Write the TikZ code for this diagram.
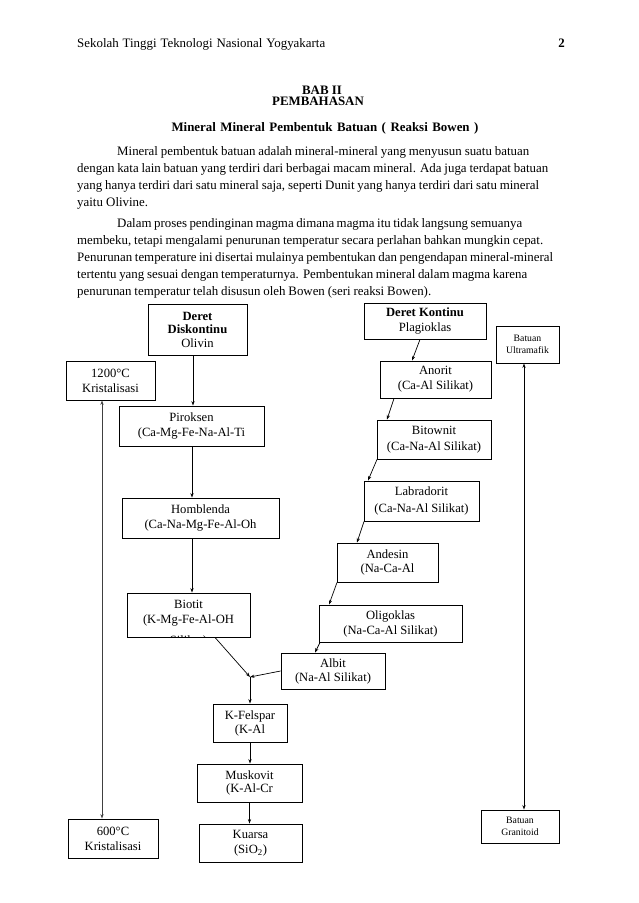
\documentclass[tikz,border=0pt]{standalone}
\usepackage{fontspec}
\setmainfont{Liberation Serif}
\usetikzlibrary{arrows.meta,calc}
\begin{document}
\begin{tikzpicture}[x=1pt,y=-1pt,
  box/.style={draw,line width=0.9pt,inner sep=0pt,align=center,font=\fontsize{12.6}{15}\selectfont},
  smallbox/.style={box,font=\fontsize{9.75}{12.5}\selectfont},
  arr/.style={-{Stealth[length=4.5pt,width=3.2pt]},line width=0.7pt},
  darr/.style={{Stealth[length=4.5pt,width=3.2pt]}-{Stealth[length=4.5pt,width=3.2pt]},line width=0.9pt},
  body/.style={anchor=base west,inner sep=0pt,font=\fontsize{12.9}{14}\selectfont},
  head/.style={anchor=base,inner sep=0pt,font=\fontsize{12.9}{14}\selectfont\bfseries},
]
\fill[white] (0,0) rectangle (638,903);
\useasboundingbox (0,0) rectangle (638,903);

% header
\node[body] (hdr) at (77,47) {\makebox[248pt][s]{Sekolah Tinggi Teknologi Nasional Yogyakarta}};
\node[anchor=base east,inner sep=0pt,font=\fontsize{12.9}{14}\selectfont\bfseries] (pg) at (565,47) {2};

\node[head] (bab) at (322,94) {BAB II};
\node[head] (pemb) at (318,105.5) {PEMBAHASAN};
\node[head] (judul) at (325,131) {\makebox[307pt][s]{Mineral Mineral Pembentuk Batuan ( Reaksi Bowen )}};

% paragraph 1
\node[body] (p1a) at (117,155.5) {\makebox[412pt][s]{Mineral pembentuk batuan adalah mineral-mineral yang menyusun suatu batuan}};
\node[body] (p1b) at (77,172.5) {\makebox[471pt][s]{dengan kata lain batuan yang terdiri dari berbagai macam mineral. Ada juga terdapat batuan}};
\node[body] (p1c) at (77,189.5) {\makebox[462pt][s]{yang hanya terdiri dari satu mineral saja, seperti Dunit yang hanya terdiri dari satu mineral}};
\node[body] (p1d) at (77,206.5) {yaitu Olivine.};
% paragraph 2
\node[body] (p2a) at (117,227.5) {\makebox[405pt][s]{Dalam proses pendinginan magma dimana magma itu tidak langsung semuanya}};
\node[body] (p2b) at (77,244.5) {\makebox[466pt][s]{membeku, tetapi mengalami penurunan temperatur secara perlahan bahkan mungkin cepat.}};
\node[body] (p2c) at (77,261.5) {\makebox[476pt][s]{Penurunan temperature ini disertai mulainya pembentukan dan pengendapan mineral-mineral}};
\node[body] (p2d) at (77,278.5) {\makebox[450pt][s]{tertentu yang sesuai dengan temperaturnya. Pembentukan mineral dalam magma karena}};
\node[body] (p2e) at (77,295.5) {\makebox[354pt][s]{penurunan temperatur telah disusun oleh Bowen (seri reaksi Bowen).}};

% left column
\node[box,minimum width=99pt,minimum height=51pt,font=\fontsize{12.6}{13.5}\selectfont] (disk) at (197.5,329.5) {\textbf{Deret}\\\textbf{Diskontinu}\\Olivin};
\node[box,minimum width=89pt,minimum height=39pt] (t1200) at (110.5,380.5) {1200°C\\Kristalisasi};
\node[box,minimum width=145pt,minimum height=40pt] (pirok) at (191.5,426) {Piroksen\\(Ca-Mg-Fe-Na-Al-Ti};
\node[box,minimum width=157pt,minimum height=40pt] (homb) at (200.5,518) {Homblenda\\(Ca-Na-Mg-Fe-Al-Oh};
\node[box,minimum width=123pt,minimum height=44pt] (biot) at (188.5,615) {};
\begin{scope}
  \clip (biot.south west) rectangle (biot.north east);
  \node[align=center,inner sep=0pt,font=\fontsize{12.6}{15}\selectfont] (biottext) at (188.5,624) {Biotit\\(K-Mg-Fe-Al-OH\\[6pt]Silikat)};
\end{scope}

% right column
\node[box,minimum width=122pt,minimum height=36pt] (kont) at (425,321) {\textbf{Deret Kontinu}\\Plagioklas};
\node[smallbox,minimum width=63pt,minimum height=37pt] (ultra) at (527.5,344.5) {Batuan\\Ultramafik};
\node[box,minimum width=111pt,minimum height=37pt] (anor) at (435.5,379.5) {Anorit\\(Ca-Al Silikat)};
\node[box,minimum width=114pt,minimum height=39pt,font=\fontsize{12.6}{16.5}\selectfont] (bitow) at (434,439.5) {Bitownit\\(Ca-Na-Al Silikat)};
\node[box,minimum width=115pt,minimum height=40pt,font=\fontsize{12.6}{16.5}\selectfont] (labr) at (421.5,501) {Labradorit\\(Ca-Na-Al Silikat)};
\node[box,minimum width=101pt,minimum height=39pt,font=\fontsize{12.6}{13.5}\selectfont] (andes) at (387.5,562.5) {Andesin\\(Na-Ca-Al};
\node[box,minimum width=143pt,minimum height=37pt] (oligo) at (390.5,623.5) {Oligoklas\\(Na-Ca-Al Silikat)};
\node[box,minimum width=104pt,minimum height=36pt,font=\fontsize{12.6}{14}\selectfont] (albit) at (333,671) {Albit\\(Na-Al Silikat)};

% bottom column
\coordinate (j) at (250,677);
\node[box,minimum width=74pt,minimum height=38pt,font=\fontsize{12.6}{14}\selectfont] (kfel) at (250,723) {K-Felspar\\(K-Al};
\node[box,minimum width=105pt,minimum height=38pt,font=\fontsize{12.6}{13.5}\selectfont] (musk) at (249.5,783) {Muskovit\\(K-Al-Cr};
\node[box,minimum width=103pt,minimum height=38pt] (kuar) at (250.5,843) {Kuarsa\\(SiO\textsubscript{2})};
\node[box,minimum width=90pt,minimum height=39pt] (t600) at (113,838.5) {600°C\\Kristalisasi};
\node[smallbox,minimum width=78pt,minimum height=33pt,font=\fontsize{9.75}{11.5}\selectfont] (gran) at (520,826.5) {Batuan\\Granitoid};

% connectors, discontinuous series
\draw[arr] ([xshift=-4.5pt]disk.south) -- ([xshift=1.5pt]pirok.north);
\draw[arr] ([xshift=0.5pt]pirok.south) -- ([xshift=-8.5pt]homb.north);
\draw[arr] ([xshift=-8.5pt]homb.south) -- ([xshift=3.5pt]biot.north);
\draw[arr] ([xshift=26.5pt]biot.south) -- (j);
% continuous series
\draw[arr] ([xshift=-5pt]kont.south) -- ([xshift=-23.5pt]anor.north);
\draw[arr] ([xshift=-41.5pt]anor.south) -- ([xshift=-47pt]bitow.north);
\draw[arr] ([xshift=-57pt]bitow.south) -- ([xshift=-53.5pt]labr.north);
\draw[arr] ([xshift=-57.5pt]labr.south) -- ([xshift=-30.5pt]andes.north);
\draw[arr] ([xshift=-50.5pt]andes.south) -- ([xshift=-61.5pt]oligo.north);
\draw[arr] ([xshift=-70.5pt]oligo.south) -- ([xshift=-18pt]albit.north);
\draw[arr] (albit.west) -- (j);
% common series
\draw[arr] (j) -- (kfel.north);
\draw[arr] (kfel.south) -- (kfel.south |- musk.north);
\draw[arr] (musk.south) -- (musk.south |- kuar.north);
% temperature and rock axes
\draw[darr,black!75] ([xshift=-8.5pt]t1200.south) -- ([xshift=-11pt]t600.north);
\draw[darr] ([xshift=-3.5pt]ultra.south) -- ([xshift=4pt]gran.north);
\end{tikzpicture}
\end{document}
